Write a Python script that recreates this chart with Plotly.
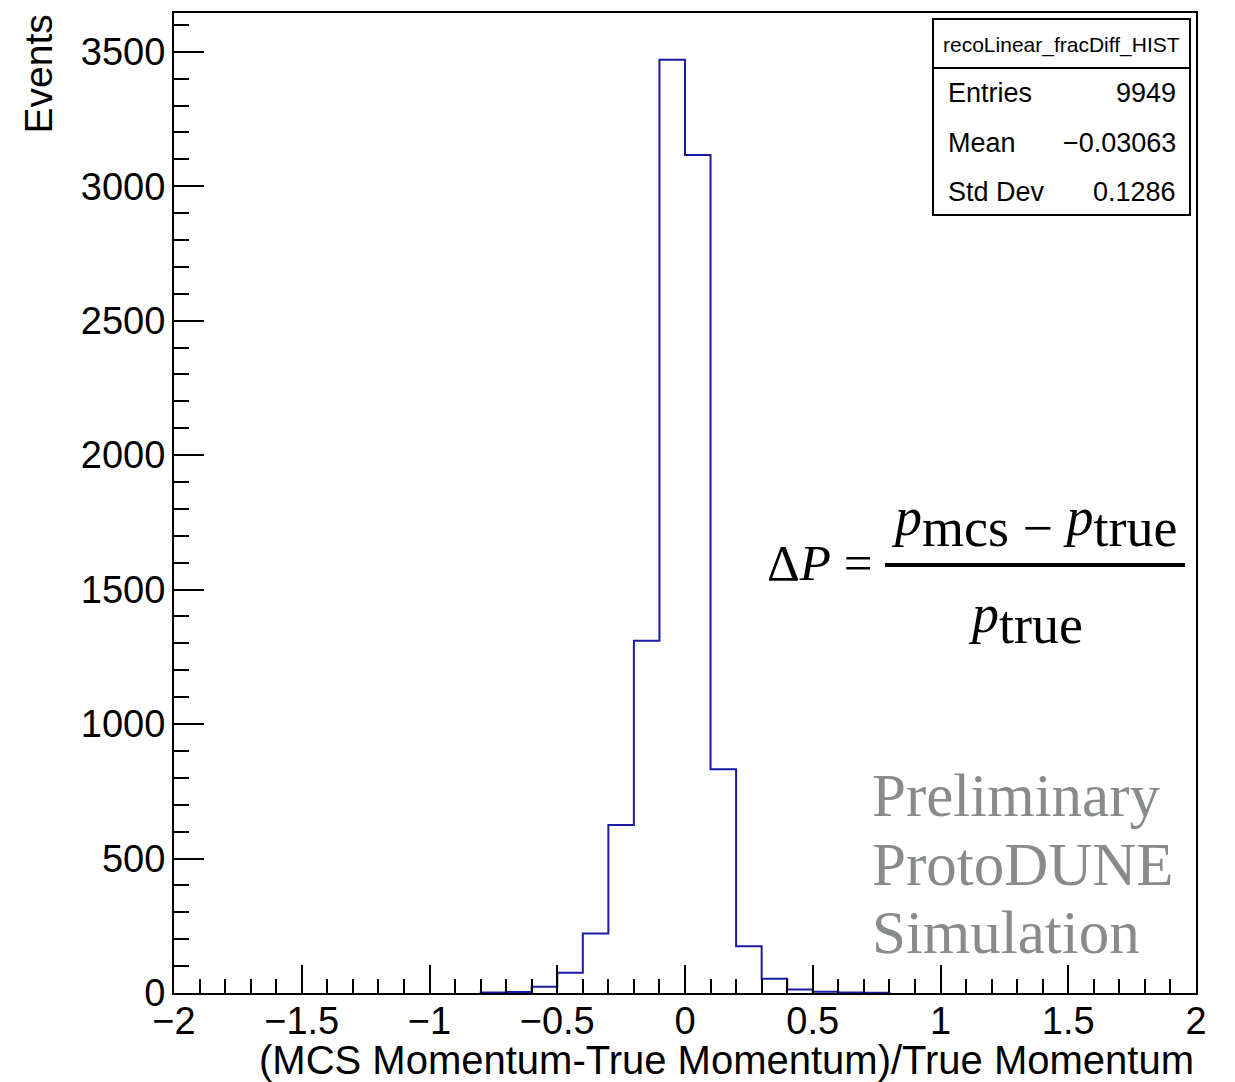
import plotly.graph_objects as go

# ---------------- data ----------------
bin_width = 0.1
x_min, x_max = -2.0, 2.0
counts = [0, 0, 0, 0, 0, 0, 0, 0, 0, 0,
          0, 0, 2, 4, 23, 75, 221, 625, 1310, 3470,
          3116, 832, 174, 53, 13, 5, 2, 1, 0, 0,
          0, 0, 0, 0, 0, 0, 0, 0, 0, 0]
x_ticks = [-2, -1.5, -1, -0.5, 0, 0.5, 1, 1.5, 2]
y_ticks = [0, 500, 1000, 1500, 2000, 2500, 3000, 3500]
stats_title = "recoLinear_fracDiff_HIST"
stats_labels = ["Entries", "Mean", "Std Dev"]
stats_values = ["9949", "\u22120.03063", "0.1286"]
watermark = ["Preliminary", "ProtoDUNE", "Simulation"]

edges = [round(x_min + i * bin_width, 1) for i in range(len(counts) + 1)]
nz = [i for i, c in enumerate(counts) if c > 0]
i0, i1 = nz[0], nz[-1]
xs = [edges[i0]] + edges[i0:i1 + 1] + [edges[i1 + 1]]
ys = [0] + counts[i0:i1 + 1] + [0]

# ---------------- layout helpers ----------------
W, H = 1235, 1082
L, R, T, B = 174, 1196, 13, 993


def px(x):
    return (x - L) / (R - L)


def py(y):
    return (B - y) / (B - T)


SANS = "Liberation Sans, Arial, sans-serif"
SERIF = "Liberation Serif, Times New Roman, serif"

fig = go.Figure()
fig.add_trace(go.Scatter(
    x=xs, y=ys, mode="lines", line=dict(color="#1a1aa6", width=2, shape="hv"),
    hoverinfo="skip", showlegend=False))

fig.update_layout(
    width=W, height=H,
    margin=dict(l=L, r=W - R, t=T, b=H - B, pad=0),
    paper_bgcolor="white", plot_bgcolor="white",
    showlegend=False,
    xaxis=dict(range=[x_min, x_max], tickvals=x_ticks, ticks="inside", ticklen=28,
               tickwidth=2, tickcolor="black", showline=True, linecolor="black",
               linewidth=2, mirror=True, showgrid=False, zeroline=False,
               tickfont=dict(family=SANS, size=38, color="black"),
               minor=dict(dtick=0.1, tick0=0, ticks="inside", ticklen=14,
                          tickwidth=2, tickcolor="black", showgrid=False),
               ticklabelstandoff=-7, layer="above traces"),
    yaxis=dict(range=[0, 3644], tickvals=y_ticks, ticks="inside", ticklen=30,
               tickwidth=2, tickcolor="black", showline=True, linecolor="black",
               linewidth=2, mirror=True, showgrid=False, zeroline=False,
               tickfont=dict(family=SANS, size=38, color="black"),
               minor=dict(dtick=100, tick0=0, ticks="inside", ticklen=15,
                          tickwidth=2, tickcolor="black", showgrid=False),
               ticklabelstandoff=-1, layer="above traces"),
)

ann = []
# axis titles
ann.append(dict(text="Events", x=px(38), y=1.0, xref="paper", yref="paper",
                xanchor="center", yanchor="top", textangle=-90, showarrow=False,
                font=dict(family=SANS, size=39, color="black")))
ann.append(dict(text="(MCS Momentum-True Momentum)/True Momentum", x=1.0, y=py(1060),
                xref="paper", yref="paper", xanchor="right", yanchor="middle",
                showarrow=False, font=dict(family=SANS, size=40, color="black")))

# stats box
shapes = [
    dict(type="rect", xref="paper", yref="paper", x0=px(933), x1=px(1190),
         y0=py(215), y1=py(19), line=dict(color="black", width=2), fillcolor="white",
         layer="above"),
    dict(type="line", xref="paper", yref="paper", x0=px(933), x1=px(1190),
         y0=py(68), y1=py(68), line=dict(color="black", width=2), layer="above"),
    # fraction bar
    dict(type="line", xref="paper", yref="paper", x0=px(885), x1=px(1185),
         y0=py(565), y1=py(565), line=dict(color="black", width=4), layer="above"),
]
ann.append(dict(text=stats_title, x=px(1061), y=py(45), xref="paper", yref="paper",
                xanchor="center", yanchor="middle", showarrow=False,
                font=dict(family=SANS, size=21, color="black")))
row_y = [93, 143, 192]
for lab, val, yy in zip(stats_labels, stats_values, row_y):
    ann.append(dict(text=lab, x=px(946), y=py(yy), xref="paper", yref="paper",
                    xanchor="left", yanchor="middle", showarrow=False,
                    font=dict(family=SANS, size=27, color="black")))
    ann.append(dict(text=val, x=px(1178), y=py(yy), xref="paper", yref="paper",
                    xanchor="right", yanchor="middle", showarrow=False,
                    font=dict(family=SANS, size=27, color="black")))

# formula
ann.append(dict(text="\u0394<i>P</i> =", x=px(874), y=py(563), xref="paper", yref="paper",
                xanchor="right", yanchor="middle", showarrow=False,
                font=dict(family=SERIF, size=51, color="black")))
num = ("<i>p</i><sub><span style='font-size:54px'>mcs \u2212 </span></sub>"
       "<i>p</i><sub><span style='font-size:54px'>true</span></sub>")
ann.append(dict(text=num, x=px(1034), y=py(522), xref="paper", yref="paper",
                xanchor="center", yanchor="middle", showarrow=False,
                font=dict(family=SERIF, size=54, color="black")))
den = "<i>p</i><sub><span style='font-size:54px'>true</span></sub>"
ann.append(dict(text=den, x=px(1025), y=py(619), xref="paper", yref="paper",
                xanchor="center", yanchor="middle", showarrow=False,
                font=dict(family=SERIF, size=54, color="black")))

# watermark
for txt, yy in zip(watermark, [795, 864, 932]):
    ann.append(dict(text=txt, x=px(870), y=py(yy), xref="paper", yref="paper",
                    xanchor="left", yanchor="middle", showarrow=False,
                    font=dict(family=SERIF, size=61, color="#878b8b")))

fig.update_layout(annotations=ann, shapes=shapes)
fig.write_html("out.html")
